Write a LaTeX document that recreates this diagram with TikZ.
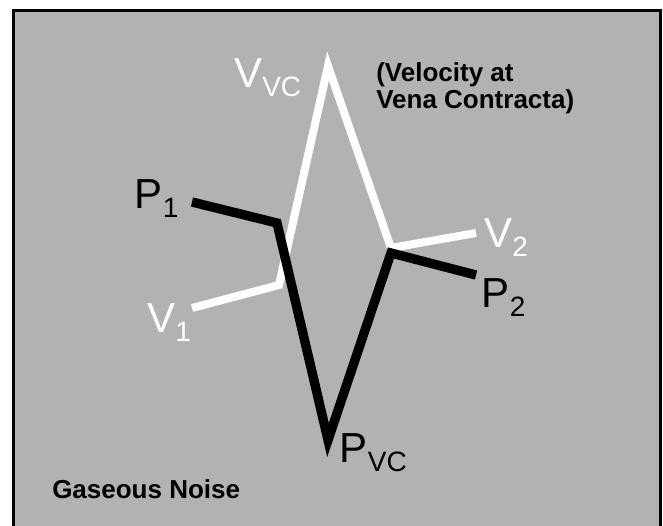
\documentclass[tikz,border=0pt]{standalone}
\usepackage{fontspec}
\setmainfont{Liberation Sans}
\newcommand{\lblsub}[2]{#1\raisebox{-6.75pt}{\fontsize{21}{21}\selectfont #2}}

\begin{document}
\begin{tikzpicture}[
    x=0.75pt, y=-0.75pt,
    panel/.style={draw=black, line width=2.25pt, fill=black!30},
    vline/.style={draw=white, line width=6pt},
    pline/.style={draw=black, line width=7pt},
    lbl/.style={inner sep=0pt, anchor=base west, font=\fontsize{31.5}{31.5}\selectfont},
    note/.style={inner sep=0pt, anchor=base west, align=left,
        font=\fontsize{19.5}{20.25}\selectfont\bfseries}
]
\useasboundingbox (0,0) rectangle (663,525);
\path[panel] (13.5,10.5) rectangle (660.5,545);

% velocity curve
\coordinate (v1) at (192,308);
\coordinate (vin) at (279,285);
\coordinate (vvc) at (328,66);
\coordinate (vout) at (391,248);
\coordinate (v2) at (476,233);
\draw[vline] (v1) -- (vin) -- (vvc) -- (vout) -- (v2);

% pressure curve
\coordinate (p1) at (192,202);
\coordinate (pin) at (277,223);
\coordinate (pvc) at (328,440);
\coordinate (pout) at (391,253);
\coordinate (p2) at (476,275);
\draw[pline] (p1) -- (pin) -- (pvc) -- (pout) -- (p2);

\node[lbl, white] (lvvc) at (234,87) {\lblsub{V}{VC}};
\node[lbl] (lp1) at (134.6,208) {\lblsub{P}{1}};
\node[lbl, white] (lv1) at (147,332) {\lblsub{V}{1}};
\node[lbl, white] (lv2) at (484,247) {\lblsub{V}{2}};
\node[lbl] (lp2) at (481.6,307) {\lblsub{P}{2}};
\node[lbl] (lpvc) at (339.6,462) {\lblsub{P}{VC}};

\node[note] (vel) at (376,108) {(Velocity at\\Vena Contracta)};
\node[note] (gas) at (52,498) {Gaseous Noise};

\end{tikzpicture}
\end{document}
